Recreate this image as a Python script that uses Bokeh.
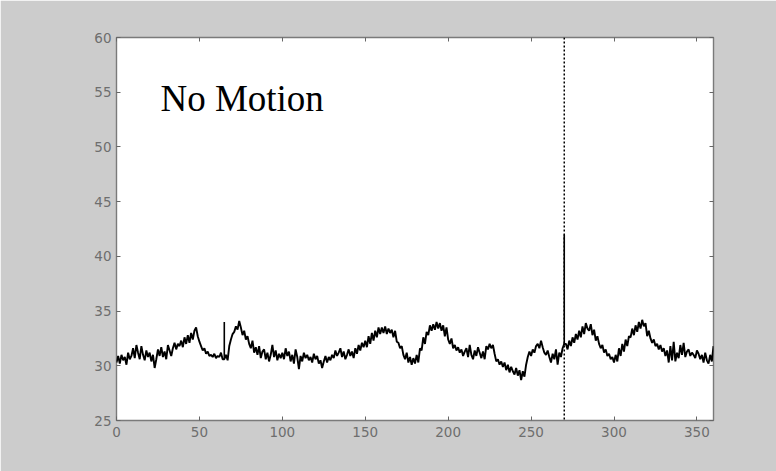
from bokeh.plotting import figure
from bokeh.models import Span, Label, LinearAxis, FixedTicker, Range1d
from bokeh.embed import file_html
from bokeh.resources import INLINE

# Angle (degrees) and signal values
angles = list(range(0, 361))
signal = [
    30.3, 30.9, 30.2, 31.0, 30.5, 30.8, 30.1, 31.2, 30.6, 30.9,
    31.6, 30.7, 31.9, 31.2, 30.6, 31.8, 31.0, 30.5, 31.4, 30.8,
    31.2, 30.4, 31.0, 29.8, 30.6, 31.5, 30.9, 31.7, 30.8, 31.3,
    30.6, 31.9, 31.4, 30.9, 31.6, 32.1, 31.5, 32.0, 31.8, 32.3,
    31.7, 32.6, 32.0, 32.8, 32.1, 33.0, 32.4, 33.2, 33.5, 32.7,
    32.2, 31.8, 31.4, 31.6, 31.1, 31.3, 30.9, 31.0, 30.8, 31.1,
    30.7, 30.9, 30.8, 31.2, 30.6, 30.6, 31.0, 30.5, 31.8, 32.4,
    32.9, 33.1, 33.6, 33.3, 34.1, 33.5, 32.8, 33.2, 32.4, 32.7,
    32.0, 31.6, 32.3, 31.2, 31.7, 31.0, 31.8, 30.7, 31.3, 31.5,
    30.6, 31.2, 30.4, 31.0, 31.9, 30.8, 31.4, 30.5, 31.1, 30.7,
    31.2, 30.6, 31.6, 30.9, 31.3, 30.4, 31.0, 30.2, 31.5, 30.8,
    29.7, 30.9, 30.4, 31.2, 30.7, 31.0, 30.5, 30.8, 30.3, 31.1,
    30.6, 30.9, 30.2, 30.5, 29.8, 30.4, 30.9, 30.3, 30.8, 30.5,
    31.0, 30.7, 31.4, 30.9, 31.2, 31.6, 30.8, 31.3, 30.6, 31.0,
    31.5, 30.9, 31.3, 30.7, 31.6, 31.1, 31.9, 31.4, 32.1, 31.7,
    32.3, 31.7, 32.7, 32.0, 33.0, 32.3, 33.2, 32.6, 33.5, 32.9,
    33.5, 33.0, 33.6, 32.9, 33.4, 33.0, 33.3, 32.6, 33.2, 32.2,
    32.1, 31.6, 31.8, 31.0, 30.6, 31.2, 30.3, 30.8, 30.1, 30.7,
    30.2, 31.0, 30.3, 31.6, 31.4, 32.6, 32.0, 33.1, 32.8, 33.7,
    33.2, 33.8, 33.3, 34.0, 33.4, 33.9, 33.2, 33.7, 32.7, 33.5,
    32.4, 32.0, 32.5, 31.6, 31.9, 31.4, 31.7, 31.2, 31.5, 30.9,
    31.3, 31.6, 30.8, 31.9, 31.0, 30.6, 31.4, 30.9, 31.7, 31.2,
    30.7, 31.3, 30.6, 31.8, 31.5, 32.0, 31.6, 31.9, 31.1, 30.4,
    30.6, 30.1, 30.4, 29.9, 30.3, 29.6, 30.1, 29.4, 29.9, 29.5,
    29.2, 29.8, 29.1, 29.6, 28.7, 29.5, 29.0, 30.1, 30.8, 31.3,
    30.9, 31.5, 31.2, 31.8, 32.0, 31.6, 32.3, 31.7, 31.2, 31.0,
    31.4, 30.8, 30.3, 31.1, 30.6, 31.5, 30.1, 31.2, 30.8, 31.6,
    32.0, 32.0, 31.5, 32.3, 31.8, 32.6, 32.1, 32.9, 32.4, 33.2,
    32.6, 33.6, 32.9, 33.9, 33.4, 33.2, 33.8, 32.8, 33.3, 32.3,
    32.7, 32.0, 31.6, 31.9, 31.2, 31.5, 30.9, 31.1, 30.6, 30.8,
    30.3, 31.0, 30.4, 31.6, 30.9, 32.0, 31.3, 32.4, 31.8, 32.7,
    32.6, 33.4, 32.8, 33.7, 33.1, 34.0, 33.4, 34.2, 33.6, 33.9,
    32.7, 33.2, 32.5, 32.1, 32.4, 31.8, 32.0, 31.5, 31.9, 31.3,
    31.6, 30.9, 31.4, 30.3, 31.8, 30.5, 32.2, 30.4, 31.2, 30.7,
    31.9, 31.0, 32.1, 30.8, 31.3, 31.5, 30.9, 31.2, 31.0, 30.7,
    31.4, 31.1, 30.6, 31.0, 30.3, 31.2, 30.5, 30.2, 31.0, 30.4,
    31.8,
]
# Narrow spikes (vertical strokes) rising from the signal
spike_angles = [65, 270]
spike_tops = [34.0, 42.0]

x_ticks = [0, 50, 100, 150, 200, 250, 300, 350]
y_ticks = [25, 30, 35, 40, 45, 50, 55, 60]
marker_angle = 270
title_text = "No Motion"

p = figure(width=776, height=471, output_backend="svg", toolbar_location=None,
           x_range=Range1d(0, 360), y_range=Range1d(25, 60),
           min_border_left=116, min_border_right=63,
           min_border_top=37, min_border_bottom=51,
           x_axis_location=None, y_axis_location=None)

p.background_fill_color = "white"
p.border_fill_color = "#cccccc"
p.outline_line_color = "#7a7a7a"
p.outline_line_width = 1.4
p.grid.visible = False

def style_axis(ax, labels=True):
    ax.axis_line_color = None
    ax.major_tick_in = 4
    ax.major_tick_out = 0
    ax.major_tick_line_color = "#666666"
    ax.minor_tick_line_color = None
    ax.major_label_text_color = "#6e6e6e"
    ax.major_label_text_font = "DejaVu Sans"
    ax.major_label_text_font_size = "13.5px"
    if not labels:
        ax.major_label_text_alpha = 0
        ax.major_label_text_font_size = "1px"

xb = LinearAxis(ticker=FixedTicker(ticks=x_ticks))
style_axis(xb)
xb.major_label_standoff = 6
p.add_layout(xb, "below")
xt = LinearAxis(ticker=FixedTicker(ticks=x_ticks))
style_axis(xt, labels=False)
p.add_layout(xt, "above")
yl = LinearAxis(ticker=FixedTicker(ticks=y_ticks))
style_axis(yl)
yl.major_label_standoff = 5
p.add_layout(yl, "left")
yr = LinearAxis(ticker=FixedTicker(ticks=y_ticks))
style_axis(yr, labels=False)
p.add_layout(yr, "right")

p.line(angles, signal, line_color="black", line_width=1.9)
spike_base = [signal[angles.index(a)] for a in spike_angles]
p.segment(x0=spike_angles, y0=spike_base, x1=spike_angles, y1=spike_tops,
          line_color="black", line_width=1.6)

p.add_layout(Span(location=marker_angle, dimension="height", line_color="black",
                  line_width=1.5, line_dash="2 2"))

p.add_layout(Label(x=26.5, y=54.4, text=title_text, text_font="Liberation Serif",
                   text_font_size="37px", text_color="black",
                   text_baseline="alphabetic"))

open("out.html", "w").write(file_html(p, INLINE))
